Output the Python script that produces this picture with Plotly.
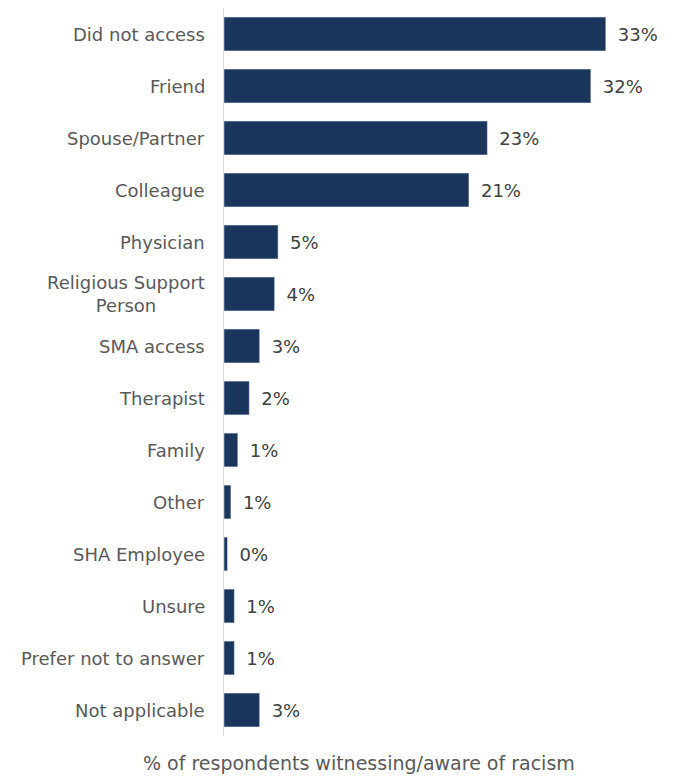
import plotly.graph_objects as go

categorias = [
    "Did not access", "Friend", "Spouse/Partner", "Colleague", "Physician",
    "Religious Support Person", "SMA access", "Therapist", "Family", "Other",
    "SHA Employee", "Unsure", "Prefer not to answer", "Not applicable",
]
rotulos = [
    "Did not access", "Friend", "Spouse/Partner", "Colleague", "Physician",
    "Religious Support<br>Person", "SMA access", "Therapist", "Family", "Other",
    "SHA Employee", "Unsure", "Prefer not to answer", "Not applicable",
]
percentuais = [33.2, 31.9, 22.9, 21.3, 4.7, 4.4, 3.1, 2.2, 1.2, 0.6, 0.3, 0.9, 0.9, 3.1]

FONTE = "DejaVu Sans"
COR_BARRA = "#1b365d"

fig = go.Figure(go.Bar(
    x=percentuais,
    y=categorias,
    orientation="h",
    marker_color=COR_BARRA,
    texttemplate="\u2002%{x:.0f}%",
    textposition="outside",
    textfont=dict(family=FONTE, size=18, color="#404040"),
    cliponaxis=False,
))

# rotulos das categorias (centralizados, como no original)
for cat, rot in zip(categorias, rotulos):
    fig.add_annotation(
        x=0, xref="paper", y=cat, yref="y",
        text=rot, showarrow=False,
        xanchor="right", xshift=-17, align="center",
        font=dict(family=FONTE, size=18, color="#595959"),
    )

fig.add_annotation(
    x=0.309, xref="paper", y=0, yref="paper", yshift=-27,
    text="% of respondents witnessing/aware of racism",
    showarrow=False, xanchor="center", yanchor="middle",
    font=dict(family=FONTE, size=19, color="#595959"),
)

# a pagina tem 8px de margem no body
fig.update_layout(
    width=672,
    height=768,
    margin=dict(l=216, r=19, t=0, b=40),
    plot_bgcolor="white",
    paper_bgcolor="white",
    bargap=0.35,
    showlegend=False,
    xaxis=dict(range=[0, 38], visible=False, fixedrange=True),
    yaxis=dict(
        autorange="reversed",
        showticklabels=False,
        showline=True,
        linecolor="#d9d9d9",
        linewidth=1,
        ticks="",
        showgrid=False,
    ),
)

fig.write_html("out.html")
